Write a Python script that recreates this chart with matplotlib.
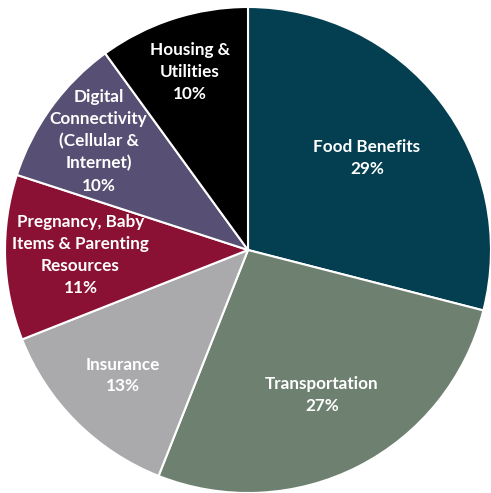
import matplotlib
matplotlib.use("Agg")
import matplotlib.pyplot as plt
import numpy as np

# data
categories = ['Food Benefits', 'Transportation', 'Insurance',
              'Pregnancy, Baby\nItems & Parenting\nResources',
              'Digital\nConnectivity\n(Cellular &\nInternet)',
              'Housing &\nUtilities']
shares = [29, 27, 13, 11, 10, 10]
colors = ['#033F50', '#6E8070', '#AAAAAC', '#8B1134', '#575074', '#000000']
label_r = [0.62, 0.67, 0.73, 0.69, 0.76, 0.77]

plt.rcParams['font.family'] = ['Lato', 'DejaVu Sans']

fig = plt.figure(figsize=(4.91, 4.93), dpi=100)
ax = fig.add_axes([5 / 491, 0, 486 / 491, 486 / 493])

wedges, _ = ax.pie(shares, colors=colors, startangle=90, counterclock=False,
                   wedgeprops=dict(edgecolor='white', linewidth=1.5))

# labels placed along each wedge's middle angle
for w, name, val, r in zip(wedges, categories, shares, label_r):
    mid = np.deg2rad((w.theta1 + w.theta2) / 2)
    ax.text(r * np.cos(mid), r * np.sin(mid), f'{name}\n{val}%',
            ha='center', va='center', color='white', fontsize=12.3,
            fontweight='bold', linespacing=1.45)

ax.set_xlim(-1, 1)
ax.set_ylim(-1, 1)
ax.set_aspect('equal')
ax.axis('off')

plt.savefig('out.png', dpi=100, facecolor='white')
